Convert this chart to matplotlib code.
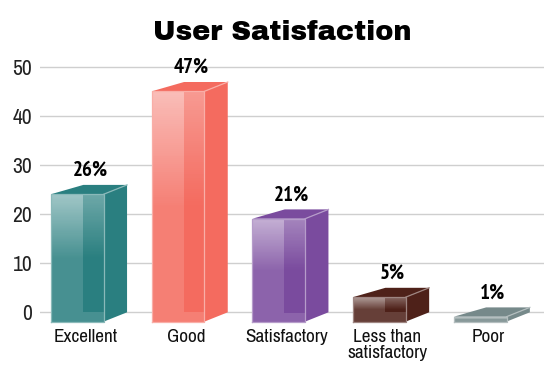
import numpy as np
import matplotlib
matplotlib.use("Agg")
import matplotlib.pyplot as plt
from matplotlib.colors import to_rgb
from matplotlib.font_manager import fontManager
from matplotlib.patches import Polygon

categories = ["Excellent", "Good", "Satisfactory", "Less than\nsatisfactory", "Poor"]
values = [26, 47, 21, 5, 1]
yticks = [0, 10, 20, 30, 40, 50]
colors = ["#2a7f80", "#f46b5f", "#7a4b9e", "#4e2119", "#76898a"]

PX_X = 100.7
PX_Y = 4.9
FRONT_W = 52.7 / PX_X
BACK_L = 32.3 / PX_X
BACK_R = 23.3 / PX_X
DROP = 9.3 / PX_Y

names = {f.name for f in fontManager.ttflist}


def pick(*wanted):
    for name in wanted:
        if name in names:
            return name
    return "Liberation Sans"


narrow = pick("Archivo Narrow", "Roboto Condensed", "Liberation Sans Narrow")
narrow_bold = pick("PT Sans Narrow", "Roboto Condensed", "Liberation Sans Narrow")
heavy = pick("Archivo Black", "Roboto")

fig = plt.figure(figsize=(5.59, 3.71), dpi=100)
ax = fig.add_axes([40 / 559, (371 - 325) / 371, 504 / 559, 265 / 371])
for spine in ax.spines.values():
    spine.set_visible(False)

ax.set_yticks(yticks)
ax.set_yticklabels(yticks, fontsize=15.5, family=narrow, color="#222222")
ax.set_xticks(np.arange(5) + 0.08)
ax.set_xticklabels(categories, fontsize=13.8, family=narrow, color="#111111", linespacing=1.02)
ax.tick_params(axis="both", length=0)
ax.tick_params(axis="y", pad=5.5)
ax.tick_params(axis="x", pad=3)
ax.grid(axis="y", color="#cfcfcf", lw=1)
ax.set_axisbelow(True)

for i, (value, color) in enumerate(zip(values, colors)):
    xl = i - FRONT_W / 2
    xr = i + FRONT_W / 2
    top = value - DROP
    bottom = -DROP

    # side, top and the back wall seen through the front
    ax.add_patch(Polygon([(xr, bottom), (xr + BACK_R, 0), (xr + BACK_R, value), (xr, top)],
                         fc=color, ec="none", zorder=3))
    ax.add_patch(Polygon([(xl, top), (xl + BACK_L, value), (xr + BACK_R, value), (xr, top)],
                         fc=color, ec="none", zorder=3))
    ax.fill_between([xl, xr], bottom, top, color=color, lw=0, zorder=3)

    # front face is the base colour under a white fade
    t = np.linspace(0, 1, 120)
    cols = np.linspace(xl, xr, 53)
    outer = 0.14 + 0.42 * np.clip(1 - t / 0.5, 0, 1)
    inner = 0.32 * np.clip(1 - t / 0.5, 0, 1)
    ys = top + (bottom - top) * t
    in_back = (cols >= xl + BACK_L)[None, :] & (ys >= 0)[:, None]
    rgba = np.ones((len(t), len(cols), 4))
    rgba[..., 3] = np.where(in_back, inner[:, None], outer[:, None])
    ax.imshow(rgba, extent=[xl, xr, bottom, top], aspect="auto", zorder=4,
              interpolation="nearest", origin="upper")

    # light edges
    edge = tuple(0.55 * np.array(to_rgb(color)) + 0.45)
    ax.plot([xl, xl, xr, xr, xl], [bottom, top, top, bottom, bottom], color=edge, lw=0.9, zorder=5)
    ax.plot([xr, xr + BACK_R], [top, value], color=edge, lw=0.9, zorder=5)

    ax.annotate(f"{value}%", (i + 0.125, value), xytext=(0, 10.5), textcoords="offset points",
                ha="center", va="center", fontsize=15, fontweight="bold", family=narrow_bold,
                color="#000000", zorder=6)

ax.set_xlim(-37.4 / PX_X, 466.6 / PX_X)
ax.set_ylim(-12.7 / PX_Y, 252.3 / PX_Y)

fig.text(282 / 559, 1 - 32 / 371, "User Satisfaction", ha="center", va="center",
         fontsize=19.6, family=heavy, color="#000000")

fig.savefig("out.png", dpi=100)
